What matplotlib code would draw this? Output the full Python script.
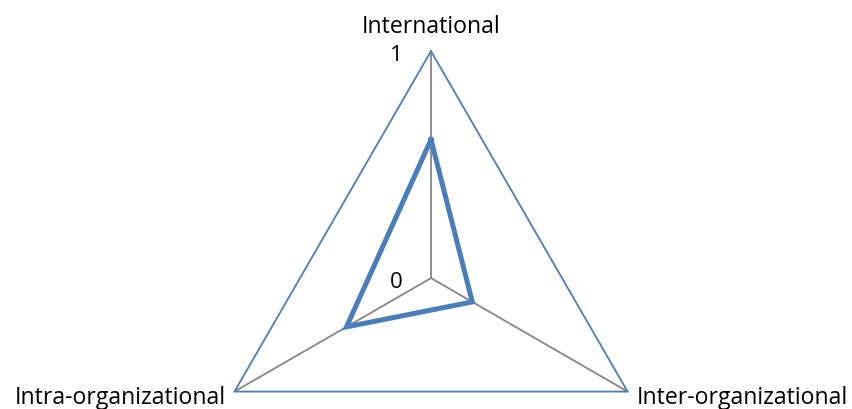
import numpy as np
import matplotlib.pyplot as plt

# Radar chart data
categories = ['International', 'Inter-organizational', 'Intra-organizational']
values = [0.61, 0.21, 0.43]
tick_values = [0, 1]

plt.rcParams['font.family'] = ['Open Sans', 'DejaVu Sans']

angles = np.linspace(0, 2 * np.pi, len(categories), endpoint=False)

fig = plt.figure(figsize=(8.53, 4.10), dpi=100)
ax = fig.add_axes([0.2392, -0.2342, 0.5322, 1.107], projection='polar')
ax.set_theta_offset(np.pi / 2)
ax.set_theta_direction(-1)
ax.set_ylim(0, 1)
ax.grid(False)
ax.set_xticks([])
ax.set_yticks([])
ax.spines['polar'].set_visible(False)
ax.patch.set_visible(False)

# spokes
for a in angles:
    ax.plot([a, a], [0, 1], color='#868686', lw=1.3, clip_on=False)

# outer grid triangle
ring_a = np.append(angles, angles[0])
ax.plot(ring_a, [tick_values[-1]] * len(ring_a), color='#4a7ebb', lw=1.3, clip_on=False)

# series
vals = values + values[:1]
ax.plot(ring_a, vals, color='#4a7ebb', lw=3.6, solid_joinstyle='miter', clip_on=False)

# axis value labels
for t in tick_values:
    ax.annotate(str(t), xy=(0, t), xytext=(-20.5, -6.5), textcoords='offset points',
                ha='right', va='baseline', fontsize=16)

# category labels
offsets = [((0, 14), 'center'), ((6.5, -8), 'left'), ((-6, -8), 'right')]
for a, name, (off, ha) in zip(angles, categories, offsets):
    ax.annotate(name, xy=(a, 1), xytext=off, textcoords='offset points',
                ha=ha, va='baseline', fontsize=16.6, annotation_clip=False)

fig.savefig('out.png', dpi=100)
